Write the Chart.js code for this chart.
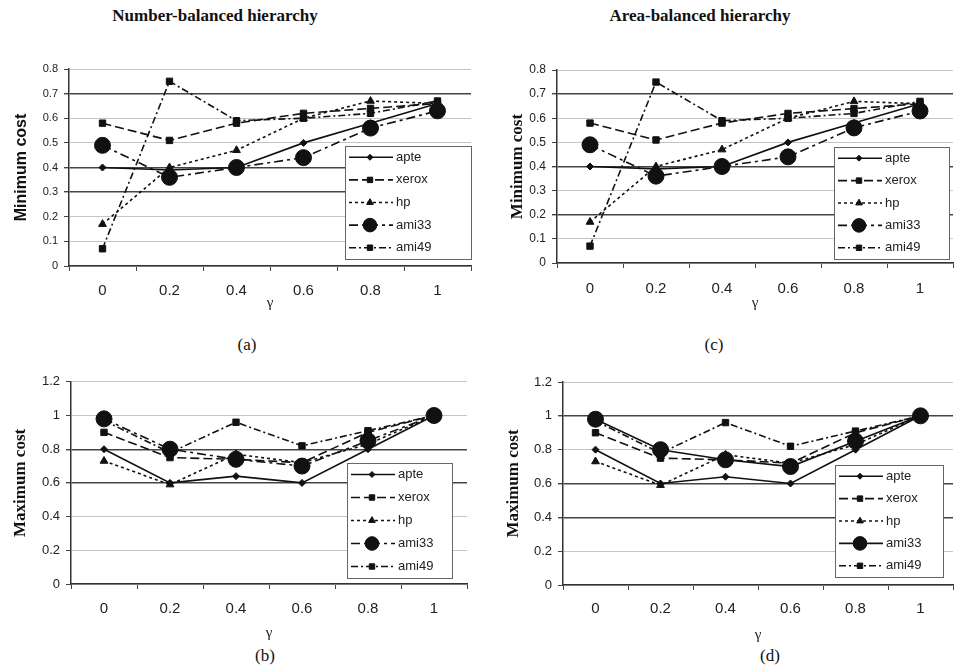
<!DOCTYPE html>
<html>
<head>
<meta charset="utf-8">
<script src="https://cdn.jsdelivr.net/npm/chart.js@4/dist/chart.umd.min.js"></script>
<style>
  body { margin: 0; background: #fff; width: 962px; height: 671px; position: relative; overflow: hidden; }
  .box { position: absolute; }
  .txt { position: absolute; font-family: "Liberation Serif", "DejaVu Serif", serif; color: #111; transform: translateX(-50%); white-space: nowrap; }
  .head { font-weight: bold; font-size: 17px; }
  .sub { font-size: 17px; }
</style>
</head>
<body>
<div class="txt head" style="left:215px; top:6px;">Number-balanced hierarchy</div>
<div class="txt head" style="left:700px; top:6px;">Area-balanced hierarchy</div>

<div class="box" style="left:0px; top:55px; width:480px; height:257px;"><canvas id="chartA"></canvas></div>
<div class="box" style="left:480px; top:55px; width:482px; height:257px;"><canvas id="chartC"></canvas></div>
<div class="box" style="left:0px; top:368px; width:480px; height:274px;"><canvas id="chartB"></canvas></div>
<div class="box" style="left:480px; top:368px; width:482px; height:276px;"><canvas id="chartD"></canvas></div>

<div class="txt sub" style="left:247px; top:335px;">(a)</div>
<div class="txt sub" style="left:714px; top:335px;">(c)</div>
<div class="txt sub" style="left:265px; top:646px;">(b)</div>
<div class="txt sub" style="left:770px; top:646px;">(d)</div>

<script>
// gamma values on the x axis
const gammas = ["0", "0.2", "0.4", "0.6", "0.8", "1"];
const seriesNames = ["apte", "xerox", "hp", "ami33", "ami49"];

// minimum cost (panels a and c)
const minApte  = [0.40, 0.39, 0.40, 0.50, 0.58, 0.66];
const minXerox = [0.58, 0.51, 0.58, 0.62, 0.64, 0.66];
const minHp    = [0.17, 0.40, 0.47, 0.60, 0.67, 0.66];
const minAmi33 = [0.49, 0.36, 0.40, 0.44, 0.56, 0.63];
const minAmi49 = [0.07, 0.75, 0.59, 0.60, 0.62, 0.67];

// maximum cost (panels b and d)
const maxApte  = [0.80, 0.60, 0.64, 0.60, 0.80, 1.00];
const maxXerox = [0.90, 0.75, 0.74, 0.72, 0.90, 1.00];
const maxHp    = [0.73, 0.59, 0.77, 0.72, 0.83, 1.00];
const maxAmi33 = [0.98, 0.80, 0.74, 0.70, 0.85, 1.00];
const maxAmi49 = [0.97, 0.78, 0.96, 0.82, 0.91, 1.00];

const INK = '#111';
const styles = [
  { dash: [],            point: 'rectRot',  r: 3.5 },
  { dash: [9, 4],        point: 'rect',     r: 4.5 },
  { dash: [3, 3],        point: 'triangle', r: 4.5 },
  { dash: [9, 4, 3, 4],  point: 'circle',   r: 8 },
  { dash: [7, 3, 2, 3],  point: 'rect',     r: 4.5 }
];

function buildSets(values, solidAmi33) {
  return values.map((v, i) => ({
    label: seriesNames[i],
    data: v,
    borderColor: INK,
    backgroundColor: INK,
    pointBackgroundColor: INK,
    pointBorderColor: INK,
    borderWidth: 1.6,
    borderDash: (i === 3 && solidAmi33) ? [] : styles[i].dash,
    pointStyle: styles[i].point,
    pointRadius: styles[i].r,
    pointBorderWidth: 1,
    tension: 0,
    fill: false
  }));
}

// legend drawn inside the plot, with line dash + marker like the original
const boxLegend = {
  id: 'boxLegend',
  afterDatasetsDraw(chart, args, o) {
    const ctx = chart.ctx, a = chart.chartArea;
    const x = a.right - o.right - o.width;
    const y = a.bottom - o.bottom - o.height;
    ctx.save();
    ctx.fillStyle = '#fff';
    ctx.fillRect(x, y, o.width, o.height);
    ctx.strokeStyle = '#666';
    ctx.lineWidth = 1;
    ctx.strokeRect(x + 0.5, y + 0.5, o.width, o.height);
    const sets = chart.data.datasets;
    const rowH = o.height / sets.length;
    sets.forEach((ds, i) => {
      const cy = y + rowH * (i + 0.5);
      ctx.strokeStyle = INK;
      ctx.lineWidth = ds.borderWidth;
      ctx.setLineDash(ds.borderDash);
      ctx.beginPath();
      ctx.moveTo(x + 4, cy);
      ctx.lineTo(x + 48, cy);
      ctx.stroke();
      ctx.setLineDash([]);
      ctx.fillStyle = INK;
      ctx.lineWidth = 1;
      Chart.helpers.drawPoint(ctx, { pointStyle: ds.pointStyle, radius: ds.pointRadius * 0.85, rotation: 0, borderWidth: 1 }, x + 25, cy);
      ctx.fillStyle = '#222';
      ctx.font = '13px "Liberation Sans", Arial, sans-serif';
      ctx.textBaseline = 'middle';
      ctx.fillText(ds.label, x + 51, cy);
    });
    ctx.restore();
  }
};

function makeChart(id, p) {
  return new Chart(document.getElementById(id), {
    type: 'line',
    data: { labels: gammas, datasets: buildSets(p.values, p.solidAmi33) },
    plugins: [boxLegend],
    options: {
      responsive: true,
      maintainAspectRatio: false,
      animation: false,
      events: [],
      layout: { padding: { top: p.padTop, right: p.padRight, bottom: 0, left: 0 } },
      plugins: {
        legend: { display: false },
        tooltip: { enabled: false },
        boxLegend: p.legend
      },
      scales: {
        x: {
          offset: true,
          grid: { display: true, drawOnChartArea: false, offset: true, tickLength: 5, tickColor: '#444' },
          border: { color: '#333', width: 1.5 },
          ticks: { font: { family: '"Liberation Sans", Arial, sans-serif', size: 15 }, color: '#222', padding: p.xTickPad, maxRotation: 0 },
          title: { display: true, text: 'γ', font: { family: '"Liberation Serif", serif', size: 15 }, color: '#222', padding: 0 },
          afterFit: s => { s.height = p.xh; }
        },
        y: {
          min: 0,
          max: p.yMax,
          ticks: {
            stepSize: p.step,
            font: { family: '"Liberation Sans", Arial, sans-serif', size: p.yTickSize },
            color: '#222',
            padding: 6,
            callback: v => String(Number(v.toFixed(2)))
          },
          grid: {
            color: c => (c.tick && p.dark.some(d => Math.abs(d - c.tick.value) < 1e-6)) ? '#444' : '#c4c4c4',
            lineWidth: c => (c.tick && p.dark.some(d => Math.abs(d - c.tick.value) < 1e-6)) ? 1.4 : 1,
            tickLength: 5,
            tickColor: '#444'
          },
          border: { color: '#333', width: 1.5 },
          title: { display: true, text: p.yTitle, font: p.yTitleFont, color: '#111', padding: { top: p.yTitlePad } },
          afterFit: s => { s.width = p.yw; }
        }
      }
    }
  });
}

const sansBold = { family: '"Liberation Sans", Arial, sans-serif', size: 16, weight: 'bold' };
const serifBold = { family: '"Liberation Serif", serif', size: 17, weight: 'bold' };

makeChart('chartA', {
  values: [minApte, minXerox, minHp, minAmi33, minAmi49], solidAmi33: false,
  yMax: 0.8, step: 0.1, yTickSize: 11, dark: [0.7, 0.4, 0.3],
  yTitle: 'Minimum cost', yTitleFont: sansBold, yTitlePad: 12,
  yw: 69, xh: 46, padTop: 14, padRight: 7, xTickPad: 11,
  legend: { right: 0, bottom: 7, width: 126, height: 113 }
});
makeChart('chartC', {
  values: [minApte, minXerox, minHp, minAmi33, minAmi49], solidAmi33: false,
  yMax: 0.8, step: 0.1, yTickSize: 12, dark: [0.7, 0.4, 0.2],
  yTitle: 'Minimum cost', yTitleFont: serifBold, yTitlePad: 27,
  yw: 77, xh: 49, padTop: 15, padRight: 2, xTickPad: 12,
  legend: { right: 4, bottom: 4, width: 115, height: 112 }
});
makeChart('chartB', {
  values: [maxApte, maxXerox, maxHp, maxAmi33, maxAmi49], solidAmi33: false,
  yMax: 1.2, step: 0.2, yTickSize: 13, dark: [0.8, 0.6],
  yTitle: 'Maximum cost', yTitleFont: serifBold, yTitlePad: 10,
  yw: 71, xh: 58, padTop: 13, padRight: 13, xTickPad: 11,
  legend: { right: 15, bottom: 6, width: 105, height: 115 }
});
makeChart('chartD', {
  values: [maxApte, maxXerox, maxHp, maxAmi33, maxAmi49], solidAmi33: true,
  yMax: 1.2, step: 0.2, yTickSize: 13, dark: [1, 0.6, 0.4],
  yTitle: 'Maximum cost', yTitleFont: serifBold, yTitlePad: 23,
  yw: 83, xh: 59, padTop: 14, padRight: 1, xTickPad: 10,
  legend: { right: 10, bottom: 8, width: 108, height: 112 }
});
</script>
</body>
</html>
